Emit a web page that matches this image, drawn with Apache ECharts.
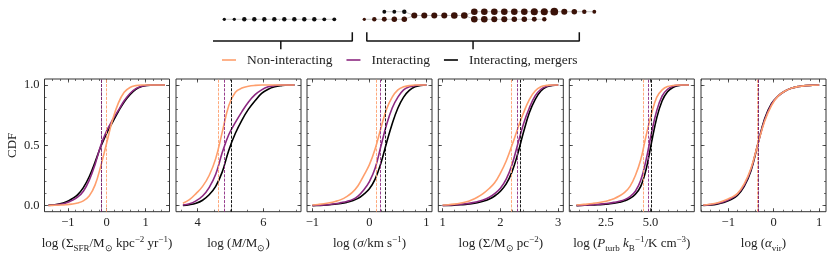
<!DOCTYPE html>
<html><head><meta charset="utf-8">
<script src="https://cdn.jsdelivr.net/npm/echarts@6/dist/echarts.min.js"></script>
<style>html,body{margin:0;padding:0;background:#fff}#c{width:830px;height:258px}</style>
</head><body><div id="c"></div>
<script>
// ---------- data ----------
const seriesNames = ['Non-interacting', 'Interacting', 'Interacting, mergers'];
const lineColors = ['#fe9f6d', '#8c2981', '#000000'];

// Panel 1: log Sigma_SFR
const p1X   = [-1.5, -1.35, -1.2, -1.05, -0.9, -0.75, -0.6, -0.45, -0.3, -0.15, 0, 0.15, 0.3, 0.45, 0.6, 0.75, 0.9, 1.05, 1.2, 1.35, 1.5];
const p1Non = [0.001, 0.003, 0.005, 0.008, 0.013, 0.022, 0.04, 0.08, 0.17, 0.33, 0.52, 0.71, 0.85, 0.94, 0.98, 0.995, 1, 1, 1, 1, 1];
const p1Int = [0.002, 0.005, 0.011, 0.022, 0.042, 0.07, 0.12, 0.21, 0.34, 0.5, 0.62, 0.71, 0.79, 0.87, 0.93, 0.97, 0.99, 0.998, 1, 1, 1];
const p1Mer = [0.003, 0.007, 0.015, 0.03, 0.055, 0.09, 0.15, 0.24, 0.36, 0.49, 0.6, 0.69, 0.78, 0.86, 0.92, 0.965, 0.988, 0.997, 1, 1, 1];
const p1Med = [-0.02, -0.14, -0.15];

// Panel 2: log M
const p2X   = [3.55, 3.75, 3.95, 4.15, 4.35, 4.55, 4.75, 4.95, 5.15, 5.35, 5.55, 5.75, 5.95, 6.15, 6.35, 6.55, 6.75, 6.95];
const p2Non = [0.02, 0.05, 0.1, 0.16, 0.25, 0.39, 0.61, 0.83, 0.94, 0.975, 0.99, 0.997, 1, 1, 1, 1, 1, 1];
const p2Int = [0.005, 0.015, 0.04, 0.08, 0.15, 0.26, 0.44, 0.59, 0.69, 0.78, 0.86, 0.92, 0.96, 0.985, 0.995, 1, 1, 1];
const p2Mer = [0.002, 0.008, 0.02, 0.045, 0.09, 0.16, 0.28, 0.46, 0.6, 0.71, 0.8, 0.87, 0.93, 0.965, 0.985, 0.995, 1, 1];
const p2Med = [4.63, 4.80, 5.02];

// Panel 3: log sigma
const p3X   = [-1, -0.9, -0.8, -0.7, -0.6, -0.5, -0.4, -0.3, -0.2, -0.1, 0, 0.1, 0.2, 0.3, 0.4, 0.5, 0.6, 0.7, 0.8, 0.9, 1];
const p3Non = [0.005, 0.01, 0.016, 0.024, 0.035, 0.05, 0.075, 0.11, 0.165, 0.25, 0.34, 0.47, 0.64, 0.8, 0.9, 0.96, 0.985, 0.995, 1, 1, 1];
const p3Int = [0.001, 0.003, 0.006, 0.01, 0.016, 0.025, 0.035, 0.05, 0.08, 0.13, 0.2, 0.31, 0.49, 0.67, 0.81, 0.9, 0.96, 0.985, 0.995, 1, 1];
const p3Mer = [0, 0.002, 0.004, 0.007, 0.012, 0.018, 0.027, 0.04, 0.06, 0.095, 0.14, 0.22, 0.35, 0.52, 0.68, 0.81, 0.9, 0.955, 0.985, 0.996, 1];
const p3Med = [0.117, 0.19, 0.28];

// Panel 4: log Sigma
const p4X   = [1.0, 1.1, 1.2, 1.3, 1.4, 1.5, 1.6, 1.7, 1.8, 1.9, 2.0, 2.1, 2.2, 2.3, 2.4, 2.5, 2.6, 2.7, 2.8, 2.9, 3.0];
const p4Non = [0.005, 0.008, 0.013, 0.02, 0.03, 0.047, 0.07, 0.1, 0.14, 0.19, 0.27, 0.37, 0.5, 0.64, 0.77, 0.88, 0.95, 0.985, 0.997, 1, 1];
const p4Int = [0.002, 0.004, 0.007, 0.011, 0.016, 0.023, 0.033, 0.047, 0.068, 0.1, 0.145, 0.22, 0.34, 0.51, 0.68, 0.81, 0.91, 0.965, 0.99, 0.998, 1];
const p4Mer = [0.001, 0.002, 0.004, 0.007, 0.011, 0.016, 0.024, 0.036, 0.053, 0.08, 0.12, 0.18, 0.28, 0.43, 0.61, 0.77, 0.88, 0.95, 0.985, 0.996, 1];
const p4Med = [2.19, 2.29, 2.34];

// Panel 5: log P_turb
const p5X   = [0.85, 1.15, 1.45, 1.75, 2.05, 2.35, 2.65, 2.95, 3.25, 3.55, 3.85, 4.15, 4.45, 4.75, 5.05, 5.35, 5.65, 5.95, 6.25, 6.55, 6.85, 7.15];
const p5Non = [0.005, 0.009, 0.013, 0.018, 0.024, 0.032, 0.043, 0.058, 0.08, 0.11, 0.16, 0.25, 0.38, 0.58, 0.76, 0.9, 0.96, 0.987, 0.996, 1, 1, 1];
const p5Int = [0.001, 0.003, 0.005, 0.008, 0.011, 0.015, 0.02, 0.027, 0.036, 0.05, 0.075, 0.12, 0.21, 0.38, 0.6, 0.79, 0.91, 0.965, 0.99, 0.998, 1, 1];
const p5Mer = [0, 0.002, 0.004, 0.006, 0.008, 0.011, 0.015, 0.02, 0.028, 0.04, 0.06, 0.095, 0.16, 0.3, 0.52, 0.73, 0.87, 0.945, 0.98, 0.995, 1, 1];
const p5Med = [4.58, 4.88, 5.02];

// Panel 6: log alpha_vir
const p6X   = [-1.55, -1.4, -1.25, -1.1, -0.95, -0.8, -0.65, -0.5, -0.35, -0.2, -0.05, 0.1, 0.25, 0.4, 0.55, 0.7, 0.85, 1.0];
const p6Non = [0.005, 0.012, 0.022, 0.04, 0.065, 0.1, 0.18, 0.31, 0.51, 0.7, 0.83, 0.91, 0.95, 0.975, 0.988, 0.995, 0.998, 1];
const p6Int = [0.003, 0.009, 0.018, 0.033, 0.057, 0.095, 0.17, 0.3, 0.51, 0.71, 0.84, 0.91, 0.95, 0.975, 0.988, 0.995, 0.998, 1];
const p6Mer = [0.002, 0.006, 0.013, 0.026, 0.048, 0.085, 0.16, 0.29, 0.51, 0.72, 0.845, 0.91, 0.95, 0.975, 0.988, 0.995, 0.998, 1];
const p6Med = [-0.365, -0.355, -0.35];

// Axis ticks
const xMajor = [[-1, 0, 1], [4, 6], [-1, 0, 1], [1, 2, 3], [2.5, 5.0], [-1, 0, 1]];
const xTickLabels = [['−1', '0', '1'], ['4', '6'], ['−1', '0', '1'], ['1', '2', '3'], ['2.5', '5.0'], ['−1', '0', '1']];
const xMinorStep = [0.2, 0.5, 0.2, 0.2, 0.5, 0.2];
const xMin = [-1.6, 3.34, -1.095, 0.925, 0.45, -1.6];
const xMax = [1.617, 7.15, 1.098, 3.088, 7.45, 1.15];
const yMajor = [0, 0.5, 1.0];
const yTickLabels = ['0.0', '0.5', '1.0'];
const yMinorStep = 0.1;
const xNames = [
  'log (Σ{sub|SFR}/M{sub|⊙} kpc{sup|−2} yr{sup|−1})',
  'log ({i|M}/M{sub|⊙})',
  'log ({i|σ}/km s{sup|−1})',
  'log (Σ/M{sub|⊙} pc{sup|−2})',
  'log ({i|P}{sub|turb} {i|k}{sub|B}{sup|−1}/K cm{sup|−3})',
  'log ({i|α}{sub|vir})'
];

// Merger-tree diagram (snapshot index, branch row, mass)
const treeMainIdx  = [0, 1, 2, 3, 4, 5, 6, 7, 8, 9, 10, 11];
const treeMainMass = [3, 3, 4, 4, 4, 4, 4, 4, 4, 4, 3.5, 3.5];
const treeLowIdx   = [14, 15, 16, 17, 18];
const treeLowMass  = [3, 4, 4.5, 5, 5];
const treeHighIdx  = [16, 17, 18];
const treeHighMass = [3.5, 3.5, 4];
const treeMidIdx   = [19, 20, 21, 22, 23, 24];
const treeMidMass  = [5.5, 5.5, 5.5, 5.5, 6, 6];
const treeTopIdx   = [25, 26, 27, 28, 29, 30, 31, 32, 33, 34, 35, 36, 37];
const treeTopMass  = [6, 6, 6, 6, 6, 6, 6.5, 6.5, 7, 5.5, 5, 4, 3.5];
const treeBotIdx   = [25, 26, 27, 28, 29, 30, 31, 32];
const treeBotMass  = [6, 6, 5.5, 5.5, 5, 5, 4.5, 4];
const bracketStart = [-1.5, 14.25];
const bracketEnd   = [12.8, 35.5];

// ---------- build ----------
const FONT = 'Liberation Serif';
const TXT = '#222';
const AX = '#333';
const panels = [
  {x: p1X, y: [p1Non, p1Int, p1Mer], med: p1Med},
  {x: p2X, y: [p2Non, p2Int, p2Mer], med: p2Med},
  {x: p3X, y: [p3Non, p3Int, p3Mer], med: p3Med},
  {x: p4X, y: [p4Non, p4Int, p4Mer], med: p4Med},
  {x: p5X, y: [p5Non, p5Int, p5Mer], med: p5Med},
  {x: p6X, y: [p6Non, p6Int, p6Mer], med: p6Med}
];
const gridLefts = [44.5, 176, 307, 438.3, 569.3, 701];
const gridW = 125, gridTop = 79, gridH = 132.7;

function minorVals(min, max, step) {
  const out = [];
  for (let v = Math.ceil(min / step - 1e-9) * step; v <= max + 1e-9; v += step) out.push(+v.toFixed(6));
  return out;
}
const rich = {
  sub: {fontFamily: FONT, fontSize: 9, color: TXT, verticalAlign: 'bottom', lineHeight: 9},
  sup: {fontFamily: FONT, fontSize: 9, color: TXT, verticalAlign: 'top', lineHeight: 9},
  i: {fontFamily: FONT, fontSize: 13, fontStyle: 'italic', color: TXT, lineHeight: 18}
};

const grids = [], xAxes = [], yAxes = [], series = [];
panels.forEach((p, i) => {
  grids.push({left: gridLefts[i], top: gridTop, width: gridW, height: gridH, show: true,
    borderColor: AX, borderWidth: 1, backgroundColor: 'transparent'});
  const xm = minorVals(xMin[i], xMax[i], xMinorStep[i]);
  const ym = minorVals(-0.05, 1.05, yMinorStep);
  const baseX = {gridIndex: i, type: 'value', min: xMin[i], max: xMax[i], splitLine: {show: false},
    axisLine: {show: false, onZero: false}};
  const baseY = {gridIndex: i, type: 'value', min: -0.05, max: 1.05, splitLine: {show: false},
    axisLine: {show: false, onZero: false}};
  const tickMaj = vals => ({show: true, inside: true, length: 3.5, customValues: vals, lineStyle: {color: AX, width: 0.8}});
  const tickMin = vals => ({show: true, inside: true, length: 2, customValues: vals, lineStyle: {color: AX, width: 0.7}});
  xAxes.push(Object.assign({}, baseX, {position: 'bottom', axisTick: tickMaj(xMajor[i]),
    axisLabel: {show: true, customValues: xMajor[i], margin: 5, fontFamily: FONT, fontSize: 12.5, color: TXT,
      formatter: v => { const k = xMajor[i].findIndex(m => Math.abs(m - v) < 1e-6); return k >= 0 ? xTickLabels[i][k] : ''; }},
    name: xNames[i], nameLocation: 'middle', nameGap: 23,
    nameTextStyle: {fontFamily: FONT, fontSize: 13, color: TXT, lineHeight: 18, rich: rich}}));
  xAxes.push(Object.assign({}, baseX, {position: 'bottom', axisTick: tickMin(xm), axisLabel: {show: false}}));
  xAxes.push(Object.assign({}, baseX, {position: 'top', axisTick: tickMaj(xMajor[i]), axisLabel: {show: false}}));
  xAxes.push(Object.assign({}, baseX, {position: 'top', axisTick: tickMin(xm), axisLabel: {show: false}}));
  const yMain = Object.assign({}, baseY, {position: 'left', axisTick: tickMaj(yMajor),
    axisLabel: {show: i === 0, customValues: yMajor, margin: 5, fontFamily: FONT, fontSize: 12.5, color: TXT,
      formatter: v => { const k = yMajor.findIndex(m => Math.abs(m - v) < 1e-6); return k >= 0 ? yTickLabels[k] : ''; }}});
  if (i === 0) Object.assign(yMain, {name: 'CDF', nameLocation: 'middle', nameRotate: 90, nameGap: 25,
    nameTextStyle: {fontFamily: FONT, fontSize: 13, color: TXT}});
  yAxes.push(yMain);
  yAxes.push(Object.assign({}, baseY, {position: 'left', axisTick: tickMin(ym), axisLabel: {show: false}}));
  yAxes.push(Object.assign({}, baseY, {position: 'right', axisTick: tickMaj(yMajor), axisLabel: {show: false}}));
  yAxes.push(Object.assign({}, baseY, {position: 'right', axisTick: tickMin(ym), axisLabel: {show: false}}));

  [2, 1, 0].forEach(k => {
    series.push({
      name: seriesNames[k], type: 'line', xAxisIndex: 4 * i, yAxisIndex: 4 * i,
      data: p.x.map((v, j) => [v, p.y[k][j]]),
      showSymbol: false, symbol: 'none', smooth: 0.4,
      lineStyle: {color: lineColors[k], width: 1.6}, itemStyle: {color: lineColors[k]},
      markLine: {silent: true, symbol: 'none', label: {show: false},
        lineStyle: {color: lineColors[k], type: [3, 1.3], width: 0.9},
        data: [{xAxis: p.med[k]}]}
    });
  });
});

// merger tree grid
const TG = panels.length;
grids.push({left: 214.3, top: 4.1, width: 400, height: 49.4, show: false});
xAxes.push({gridIndex: TG, type: 'value', min: -1, max: 39, show: false});
yAxes.push({gridIndex: TG, type: 'value', min: -4.5, max: 2, show: false});
const TXI = xAxes.length - 1, TYI = yAxes.length - 1;
const edge = pts => ({type: 'line', xAxisIndex: TXI, yAxisIndex: TYI, data: pts, symbol: 'none', silent: true,
  lineStyle: {color: '#aaaaaa', width: 0.7}, z: 1});
const pts = (idx, row) => idx.map(v => [v, row]);
series.push(edge(pts(treeMainIdx, 0)));
series.push(edge(pts(treeLowIdx, 0).concat([[treeMidIdx[0], 0.5]])));
series.push(edge(pts(treeHighIdx, 1).concat([[treeMidIdx[0], 0.5]])));
series.push(edge(pts(treeMidIdx, 0.5)));
series.push(edge([[treeMidIdx[treeMidIdx.length - 1], 0.5]].concat(pts(treeTopIdx, 1))));
series.push(edge([[treeMidIdx[treeMidIdx.length - 1], 0.5]].concat(pts(treeBotIdx, 0))));
const dots = (idx, row, mass, color) => ({type: 'scatter', xAxisIndex: TXI, yAxisIndex: TYI, silent: true,
  data: idx.map((v, j) => [v, row, mass[j]]), symbolSize: d => d[2] * 1.1,
  itemStyle: {color: color, opacity: 1}, z: 3});
series.push(dots(treeMainIdx, 0, treeMainMass, '#0d0d0d'));
series.push(dots(treeLowIdx, 0, treeLowMass, '#3a1208'));
series.push(dots(treeHighIdx, 1, treeHighMass, '#0d0d0d'));
series.push(dots(treeMidIdx, 0.5, treeMidMass, '#3a1208'));
series.push(dots(treeTopIdx, 1, treeTopMass, '#3a1208'));
series.push(dots(treeBotIdx, 0, treeBotMass, '#3a1208'));
// brackets
bracketStart.forEach((s, b) => {
  const e = bracketEnd[b], m = (s + e) / 2;
  const st = {type: 'line', xAxisIndex: TXI, yAxisIndex: TYI, symbol: 'none', silent: true,
    lineStyle: {color: '#111', width: 1.5}, z: 2};
  series.push(Object.assign({}, st, {data: [[s, -1.71], [s, -2.86], [e, -2.86], [e, -1.71]]}));
  series.push(Object.assign({}, st, {data: [[m, -2.86], [m, -3.95]]}));
});

const chart = echarts.init(document.getElementById('c'), null, {renderer: 'canvas'});
chart.setOption({
  animation: false,
  backgroundColor: '#ffffff',
  legend: {data: seriesNames, top: 48, left: 217, icon: 'rect', itemWidth: 14, itemHeight: 1.6,
    itemGap: 14, textStyle: {fontFamily: FONT, fontSize: 13.5, color: TXT, padding: [0, 0, 0, 6]}},
  grid: grids, xAxis: xAxes, yAxis: yAxes, series: series
});
</script></body></html>
